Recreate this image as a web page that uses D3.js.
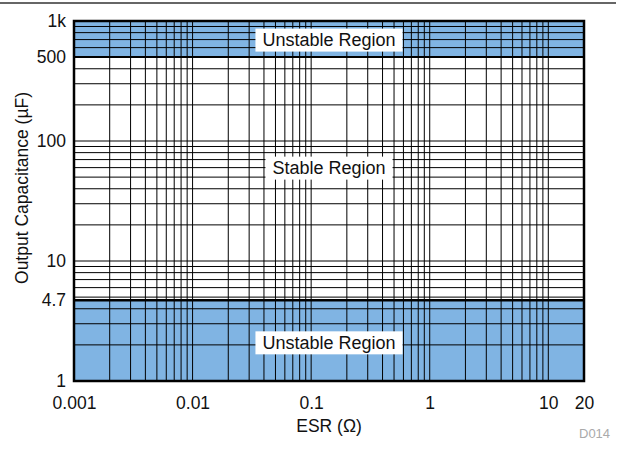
<!DOCTYPE html>
<html><head><meta charset="utf-8">
<script src="https://cdn.jsdelivr.net/npm/d3@7"></script>
<style>body{margin:0;background:#fff;}svg{display:block;font-family:"Liberation Sans",Arial,sans-serif;}</style>
</head><body>
<svg id="c" width="618" height="476"></svg>
<script>
const xTicks = [0.001, 0.01, 0.1, 1, 10, 20];
const xTickLabels = ["0.001", "0.01", "0.1", "1", "10", "20"];
const yTicks = [1, 4.7, 10, 100, 500, 1000];
const yTickLabels = ["1", "4.7", "10", "100", "500", "1k"];
const xGrid = [0.002,0.003,0.004,0.005,0.006,0.007,0.008,0.009,
  0.01,0.02,0.03,0.04,0.05,0.06,0.07,0.08,0.09,
  0.1,0.2,0.3,0.4,0.5,0.6,0.7,0.8,0.9,
  1,2,3,4,5,6,7,8,9,10];
const yGrid = [2,3,4,5,6,7,8,9,10,20,30,40,50,60,70,80,90,100,200,300,400,600,700,800,900];
const regions = ["Unstable Region", "Stable Region", "Unstable Region"];
const regionLow = [500, 4.7, 1];
const regionHigh = [1000, 500, 4.7];
const regionFilled = [true, false, true];
const regionLabelAt = [700, 60, 2.1];

const svg = d3.select("#c");
const L = 74, R = 584, T = 21, B = 381;
const x = d3.scaleLog().domain([0.001, 20]).range([L, R]);
const y = d3.scaleLog().domain([1, 1000]).range([B, T]);

// top rule
svg.append("line").attr("x1", 0).attr("x2", 616).attr("y1", 3).attr("y2", 3)
  .attr("stroke", "#333").attr("stroke-width", 1.5);

// region fills
svg.selectAll("rect.reg").data(regions.map((r, i) => i).filter(i => regionFilled[i])).join("rect")
  .attr("x", L).attr("width", R - L)
  .attr("y", i => y(regionHigh[i])).attr("height", i => y(regionLow[i]) - y(regionHigh[i]))
  .attr("fill", "#80b4e3");

// grid
svg.append("g").selectAll("line").data(xGrid).join("line")
  .attr("x1", d => x(d)).attr("x2", d => x(d)).attr("y1", T).attr("y2", B)
  .attr("stroke", "#000").attr("stroke-width", 1);
svg.append("g").selectAll("line").data(yGrid).join("line")
  .attr("y1", d => y(d)).attr("y2", d => y(d)).attr("x1", L).attr("x2", R)
  .attr("stroke", "#000").attr("stroke-width", 1);

// boundaries
svg.append("line").attr("x1", L).attr("x2", R).attr("y1", y(500)).attr("y2", y(500))
  .attr("stroke", "#000").attr("stroke-width", 2);
svg.append("line").attr("x1", L).attr("x2", R).attr("y1", y(4.7)).attr("y2", y(4.7))
  .attr("stroke", "#000").attr("stroke-width", 2.5);

// frame
svg.append("rect").attr("x", L).attr("y", T).attr("width", R - L).attr("height", B - T)
  .attr("fill", "none").attr("stroke", "#000").attr("stroke-width", 2.5);

// region labels
regions.forEach((r, i) => {
  const cy = y(regionLabelAt[i]);
  const t = svg.append("text").attr("x", (L + R) / 2).attr("y", cy + 6.5)
    .attr("text-anchor", "middle").attr("font-size", 18).attr("fill", "#111").text(r);
  const bb = t.node().getBBox();
  svg.insert("rect", () => t.node()).attr("x", bb.x - 7).attr("y", cy - 11)
    .attr("width", bb.width + 14).attr("height", 23).attr("fill", "#fff");
});

// tick labels
const xAxis = d3.axisBottom(x).tickValues(xTicks).tickFormat((d, i) => xTickLabels[i]).tickSize(0).tickPadding(16);
const gx = svg.append("g").attr("transform", `translate(0,${B})`).call(xAxis);
gx.select(".domain").remove();
gx.selectAll("text").attr("font-size", 17.5).attr("fill", "#111").attr("font-family", "Liberation Sans, Arial, sans-serif");

const yAxis = d3.axisLeft(y).tickValues(yTicks).tickFormat((d, i) => yTickLabels[i]).tickSize(0).tickPadding(8);
const gy = svg.append("g").attr("transform", `translate(${L},0)`).call(yAxis);
gy.select(".domain").remove();
gy.selectAll("text").attr("font-size", 17.5).attr("fill", "#111").attr("font-family", "Liberation Sans, Arial, sans-serif");

// axis titles
svg.append("text").attr("x", (L + R) / 2).attr("y", 432).attr("text-anchor", "middle")
  .attr("font-size", 17.5).attr("fill", "#111").text("ESR (Ω)");
svg.append("text").attr("transform", "translate(28,188) rotate(-90)").attr("text-anchor", "middle")
  .attr("font-size", 17.5).attr("fill", "#111").text("Output Capacitance (µF)");

svg.append("text").attr("x", 579).attr("y", 438).attr("font-size", 13).attr("fill", "#aaa").text("D014");
</script>
</body></html>
